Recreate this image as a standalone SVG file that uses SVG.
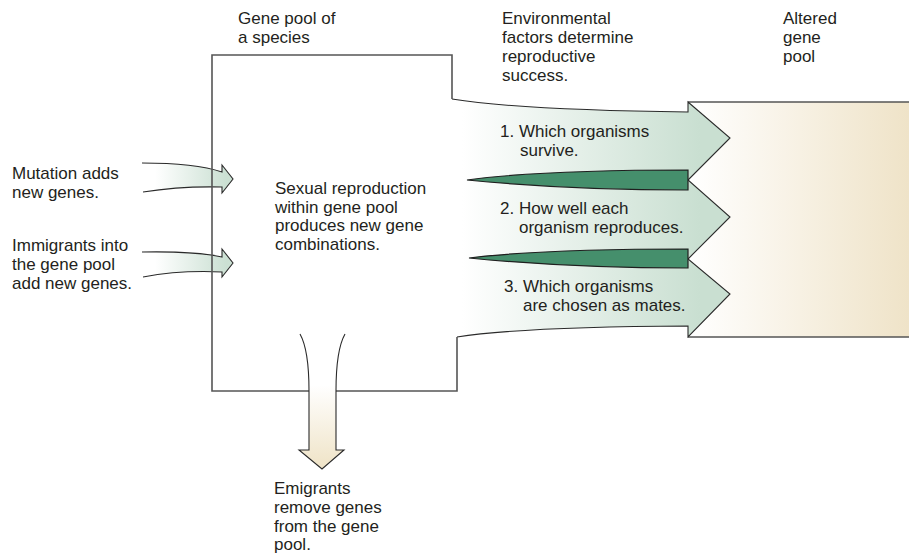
<svg xmlns="http://www.w3.org/2000/svg" width="909" height="558" viewBox="0 0 909 558">
<defs>
<linearGradient id="gSel" gradientUnits="userSpaceOnUse" x1="462" y1="0" x2="700" y2="0">
<stop offset="0" stop-color="#ffffff"/><stop offset="1" stop-color="#c9dfd1"/>
</linearGradient>
<linearGradient id="gAlt" gradientUnits="userSpaceOnUse" x1="690" y1="0" x2="909" y2="0">
<stop offset="0" stop-color="#ffffff"/><stop offset="1" stop-color="#efe3c8"/>
</linearGradient>
<linearGradient id="gIn" gradientUnits="userSpaceOnUse" x1="155" y1="0" x2="226" y2="0">
<stop offset="0" stop-color="#ffffff"/><stop offset="1" stop-color="#cbe0d3"/>
</linearGradient>
<linearGradient id="gOut" gradientUnits="userSpaceOnUse" x1="0" y1="385" x2="0" y2="469">
<stop offset="0" stop-color="#ffffff"/><stop offset="1" stop-color="#efe3c6"/>
</linearGradient>
<style>
text{font-family:"Liberation Sans",Arial,sans-serif;font-size:17px;fill:#231f20}
.box{fill:none;stroke:#555;stroke-width:1.6}
.ln{fill:none;stroke:#2a2a2a;stroke-width:1.1}
.wedge{fill:#458f6c;stroke:#1f1f1f;stroke-width:1.2}
</style>
</defs>

<g id="altered-gene-pool">
<rect x="688" y="102" width="230" height="235" fill="url(#gAlt)"/>
<path class="box" d="M688,102 H912 M688,337 H912"/>
<text x="783" y="24">Altered</text>
<text x="783" y="43">gene</text>
<text x="783" y="62">pool</text>
</g>

<g id="connectors">
<g id="selection-arrows">
<path fill="url(#gSel)" d="M452,99 Q520,110 688,112 L688,102 L730,138 L688,180 L730,217 L688,259 L730,294 L688,337 L688,326 Q520,327 457,337 Z"/>
<path class="ln" d="M452,99 Q520,110 688,112 L688,102 L730,138 L688,180 L730,217 L688,259 L730,294 L688,337 L688,326 Q520,327 457,337"/>
<path class="wedge" d="M467,180 Q540,170 688,170 L688,190 Q570,190 467,180 Z"/>
<path class="wedge" d="M469,258 Q542,249 688,249 L688,268 Q570,268 469,258 Z"/>
</g>
<g id="mutation-arrow">
<path fill="url(#gIn)" d="M142,163 Q195,163 222,172 L222,165 L233,179 L222,193 L222,187 Q180,186 143,192 Z"/>
<path class="ln" d="M142,163 Q195,163 222,172 L222,165 L233,179 L222,193 L222,187 Q180,186 143,192"/>
</g>
<g id="immigrant-arrow">
<path fill="url(#gIn)" d="M142,252 Q195,251 222,257 L222,249 L233,263 L222,277 L222,272 Q180,270 143,277 Z"/>
<path class="ln" d="M142,252 Q195,251 222,257 L222,249 L233,263 L222,277 L222,272 Q180,270 143,277"/>
</g>
</g>

<g id="gene-pool">
<path class="box" d="M452,99 V55 H212 V391 H457 V337"/>
<text x="238" y="24">Gene pool of</text>
<text x="238" y="43">a species</text>
<text x="275" y="194">Sexual reproduction</text>
<text x="275" y="212.5">within gene pool</text>
<text x="275" y="231">produces new gene</text>
<text x="275" y="249.5">combinations.</text>
</g>

<g id="emigrant-arrow">
<path fill="url(#gOut)" d="M300,334 Q309,350 309,391 L309,450 L299,450 L322,469 L344,450 L336,450 L336,391 Q336,350 345,334 Z"/>
<path class="ln" d="M300,334 Q309,350 309,391 L309,450 L299,450 L322,469 L344,450 L336,450 L336,391 Q336,350 345,334"/>
</g>

<g id="environment-label">
<text x="502" y="24">Environmental</text>
<text x="502" y="43">factors determine</text>
<text x="502" y="62">reproductive</text>
<text x="502" y="81">success.</text>
</g>

<g id="selection-labels">
<text x="500" y="137">1. Which organisms</text>
<text x="520" y="156">survive.</text>
<text x="500" y="214">2. How well each</text>
<text x="519" y="233">organism reproduces.</text>
<text x="504" y="292">3. Which organisms</text>
<text x="523" y="311">are chosen as mates.</text>
</g>

<g id="mutation">
<text x="12" y="179">Mutation adds</text>
<text x="12" y="198">new genes.</text>
</g>

<g id="immigrants">
<text x="12" y="251">Immigrants into</text>
<text x="12" y="270">the gene pool</text>
<text x="12" y="289">add new genes.</text>
</g>

<g id="emigrants">
<text x="274" y="494">Emigrants</text>
<text x="274" y="513">remove genes</text>
<text x="274" y="531.5">from the gene</text>
<text x="274" y="550">pool.</text>
</g>
</svg>
